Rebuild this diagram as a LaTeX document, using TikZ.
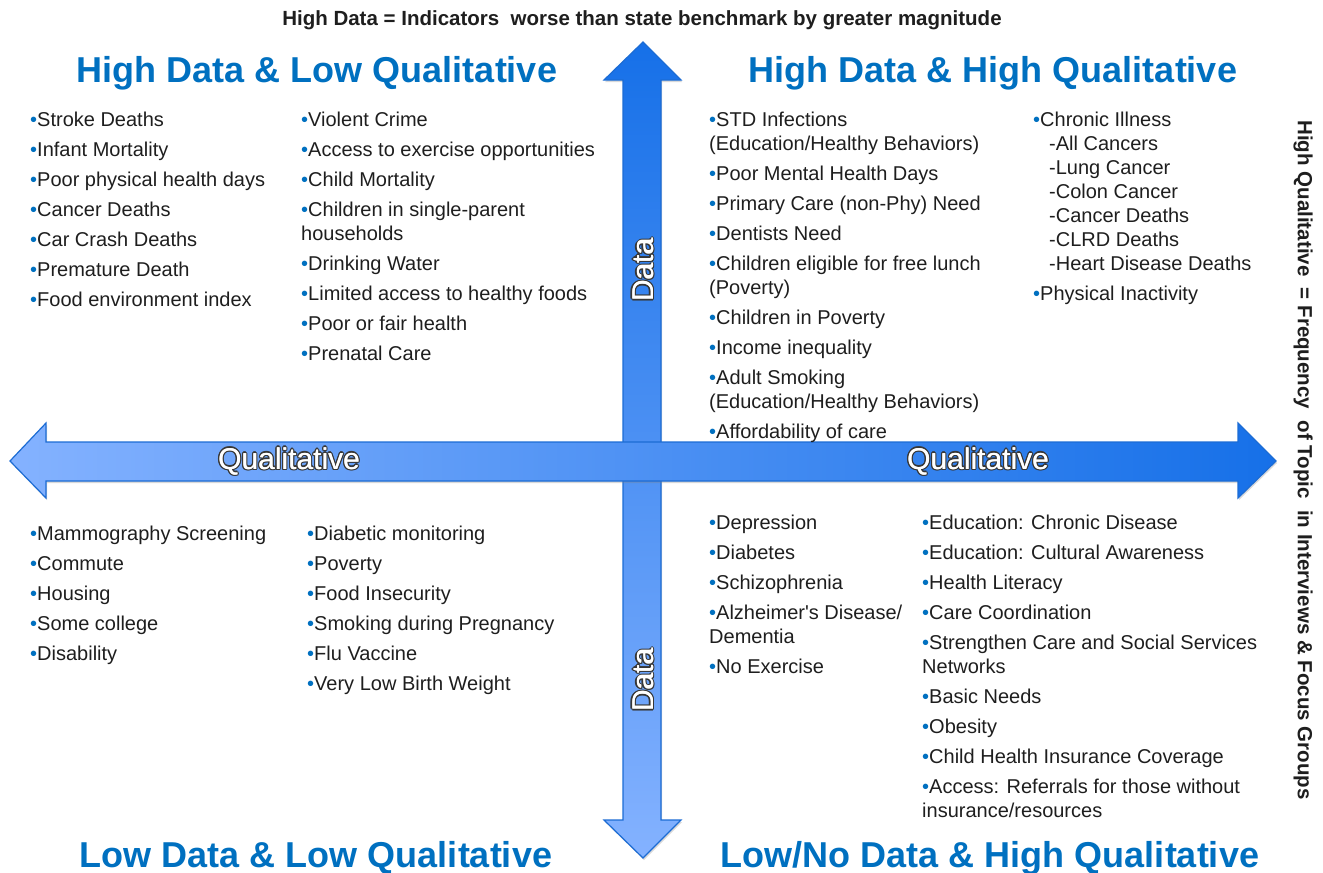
\documentclass[tikz,border=0pt]{standalone}
\usepackage{fontspec}
\setmainfont{Liberation Sans}
\usetikzlibrary{shadows}

\definecolor{titleblue}{RGB}{0,112,192}
\definecolor{arrowdark}{RGB}{22,112,232}
\definecolor{arrowlight}{RGB}{132,178,255}
\definecolor{arrowedge}{RGB}{28,108,212}
\definecolor{textgray}{RGB}{30,30,30}
\definecolor{glowgray}{RGB}{55,55,55}

\newcommand{\bul}{{\color{titleblue}\textbullet}}
\newcommand{\glowtext}[1]{%
  \makebox[0pt][l]{\color{glowgray}\kern-1.4pt#1}%
  \makebox[0pt][l]{\color{glowgray}\kern1.4pt#1}%
  \makebox[0pt][l]{\color{glowgray}\raisebox{1.4pt}{#1}}%
  \makebox[0pt][l]{\color{glowgray}\raisebox{-1.4pt}{#1}}%
  \makebox[0pt][l]{\color{glowgray}\kern1pt\raisebox{1pt}{#1}}%
  \makebox[0pt][l]{\color{glowgray}\kern-1pt\raisebox{-1pt}{#1}}%
  \makebox[0pt][l]{\color{glowgray}\kern1pt\raisebox{-1pt}{#1}}%
  \makebox[0pt][l]{\color{glowgray}\kern-1pt\raisebox{1pt}{#1}}%
  \makebox[0pt][l]{\color{white}\kern0.3pt#1}%
  {\color{white}#1}}

\tikzset{
  quadtitle/.style={text=titleblue, inner sep=0pt, font=\fontsize{36}{40}\selectfont\bfseries},
  itemlist/.style={anchor=north west, align=left, inner sep=0pt, text=textgray, font=\fontsize{20}{24}\selectfont},
  axislabel/.style={inner sep=0pt, font=\fontsize{30}{32}\selectfont},
  note/.style={inner sep=0pt, text=textgray, font=\fontsize{20.5}{22}\selectfont\bfseries},
  bigarrow/.style={draw=arrowedge, line width=1.2pt,
    drop shadow={opacity=0.3, shadow xshift=1pt, shadow yshift=-2pt}}
}

\begin{document}
\begin{tikzpicture}[x=1pt, y=-1pt]
\useasboundingbox (0,0) rectangle (1323,873);

% arrows
\draw[bigarrow, top color=arrowdark, bottom color=arrowlight]
  (623,80) -- (604,80) -- (643,42) -- (681,80) -- (661,80) -- (661,820) -- (681,820)
  -- (643,858) -- (604,820) -- (623,820) -- cycle;
\draw[bigarrow, left color=arrowlight, right color=arrowdark]
  (46,442) -- (46,423) -- (10,461) -- (46,498) -- (46,481) -- (1238,481) -- (1238,498)
  -- (1276,461) -- (1238,423) -- (1238,442) -- cycle;

\node[axislabel, rotate=90] (dataup) at (643,270) {\glowtext{Data}};
\node[axislabel, rotate=90] (datadown) at (643,680) {\glowtext{Data}};
\node[axislabel] (qualleft) at (289,461) {\glowtext{Qualitative}};
\node[axislabel] (qualright) at (978,461) {\glowtext{Qualitative}};

% headings
\node[note] (topnote) at (642,20) {High Data = Indicators\ \ worse than state benchmark by greater magnitude};
\node[note, rotate=-90] (sidenote) at (1303,460) {High Qualitative\ \ = Frequency\ \ of Topic\ \ in Interviews \& Focus Groups};

\node[quadtitle] (hdlq) at (317,73) {High Data \& Low Qualitative};
\node[quadtitle] (hdhq) at (993,73) {High Data \& High Qualitative};
\node[quadtitle] (ldlq) at (316,858) {Low Data \& Low Qualitative};
\node[quadtitle] (ldhq) at (990,858) {Low/No Data \& High Qualitative};

% high data, low qualitative
\node[itemlist] (hdlqa) at (30,112) {\bul Stroke Deaths\\[6pt]
  \bul Infant Mortality\\[6pt]
  \bul Poor physical health days\\[6pt]
  \bul Cancer Deaths\\[6pt]
  \bul Car Crash Deaths\\[6pt]
  \bul Premature Death\\[6pt]
  \bul Food environment index};
\node[itemlist] (hdlqb) at (301,112) {\bul Violent Crime\\[6pt]
  \bul Access to exercise opportunities\\[6pt]
  \bul Child Mortality\\[6pt]
  \bul Children in single-parent\\households\\[6pt]
  \bul Drinking Water\\[6pt]
  \bul Limited access to healthy foods\\[6pt]
  \bul Poor or fair health\\[6pt]
  \bul Prenatal Care};

% high data, high qualitative
\node[itemlist] (hdhqa) at (709,112) {\bul STD Infections\\(Education/Healthy Behaviors)\\[6pt]
  \bul Poor Mental Health Days\\[6pt]
  \bul Primary Care (non-Phy) Need\\[6pt]
  \bul Dentists Need\\[6pt]
  \bul Children eligible for free lunch\\(Poverty)\\[6pt]
  \bul Children in Poverty\\[6pt]
  \bul Income inequality\\[6pt]
  \bul Adult Smoking\\(Education/Healthy Behaviors)\\[6pt]
  \bul Affordability of care};
\node[itemlist] (hdhqb) at (1033,112) {\bul Chronic Illness\\
  \hspace*{16pt}-All Cancers\\
  \hspace*{16pt}-Lung Cancer\\
  \hspace*{16pt}-Colon Cancer\\
  \hspace*{16pt}-Cancer Deaths\\
  \hspace*{16pt}-CLRD Deaths\\
  \hspace*{16pt}-Heart Disease Deaths\\[6pt]
  \bul Physical Inactivity};

% low data, low qualitative
\node[itemlist] (ldlqa) at (30,526) {\bul Mammography Screening\\[6pt]
  \bul Commute\\[6pt]
  \bul Housing\\[6pt]
  \bul Some college\\[6pt]
  \bul Disability};
\node[itemlist] (ldlqb) at (307,526) {\bul Diabetic monitoring\\[6pt]
  \bul Poverty\\[6pt]
  \bul Food Insecurity\\[6pt]
  \bul Smoking during Pregnancy\\[6pt]
  \bul Flu Vaccine\\[6pt]
  \bul Very Low Birth Weight};

% low data, high qualitative
\node[itemlist] (ldhqa) at (709,515) {\bul Depression\\[6pt]
  \bul Diabetes\\[6pt]
  \bul Schizophrenia\\[6pt]
  \bul Alzheimer\textquotesingle s Disease/\\Dementia\\[6pt]
  \bul No Exercise};
\node[itemlist] (ldhqb) at (922,515) {\bul Education: Chronic Disease\\[6pt]
  \bul Education: Cultural Awareness\\[6pt]
  \bul Health Literacy\\[6pt]
  \bul Care Coordination\\[6pt]
  \bul Strengthen Care and Social Services\\Networks\\[6pt]
  \bul Basic Needs\\[6pt]
  \bul Obesity\\[6pt]
  \bul Child Health Insurance Coverage\\[6pt]
  \bul Access: Referrals for those without\\insurance/resources};

\end{tikzpicture}
\end{document}
